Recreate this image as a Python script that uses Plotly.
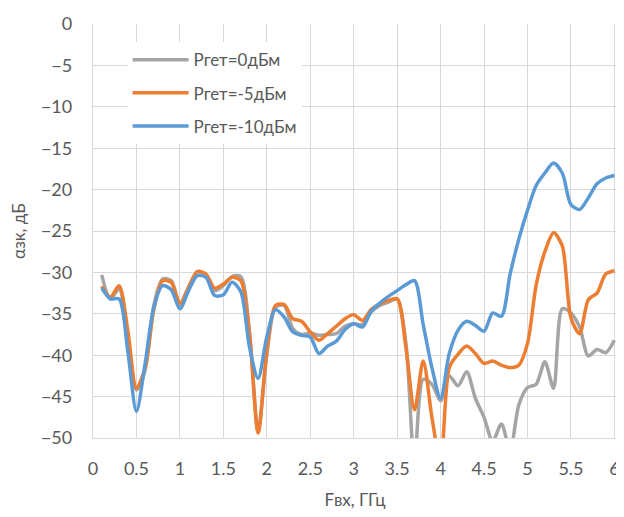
import plotly.graph_objects as go

freq = [0.1, 0.2, 0.3, 0.4, 0.5, 0.6, 0.7, 0.8, 0.9, 1.0,
        1.1, 1.2, 1.3, 1.4, 1.5, 1.6, 1.7, 1.8, 1.9, 2.0,
        2.1, 2.2, 2.3, 2.4, 2.5, 2.6, 2.7, 2.8, 2.9, 3.0,
        3.1, 3.2, 3.3, 3.4, 3.5, 3.6, 3.7, 3.8, 3.9, 4.0,
        4.1, 4.2, 4.3, 4.4, 4.5, 4.6, 4.7, 4.8, 4.9, 5.0,
        5.1, 5.2, 5.3, 5.4, 5.5, 5.6, 5.7, 5.8, 5.9, 6.0]

p_0dbm = [-30.3, -33.2, -32.0, -37.5, -44.2, -41.8, -34.0, -30.8, -31.0, -33.8,
          -31.8, -29.9, -30.3, -32.2, -31.6, -30.5, -30.5, -37.0, -49.2, -40.0,
          -34.2, -34.0, -36.8, -37.5, -37.3, -37.6, -37.5, -37.4, -36.5, -36.2,
          -36.3, -34.8, -34.0, -33.6, -33.2, -38.5, -53.0, -42.9, -43.5, -45.5,
          -42.5, -43.7, -42.0, -45.2, -47.5, -50.4, -48.3, -51.5, -46.0, -43.9,
          -43.5, -40.8, -44.0, -34.4, -34.9, -36.6, -40.1, -39.3, -39.7, -38.2]

p_m5dbm = [-31.7, -33.0, -31.6, -37.0, -44.0, -41.5, -34.5, -31.0, -31.2, -33.8,
           -31.8, -29.9, -30.2, -31.9, -31.4, -30.6, -31.0, -37.5, -49.4, -39.5,
           -34.0, -33.9, -35.6, -35.9, -37.2, -38.2, -37.4, -36.5, -35.6, -35.1,
           -35.8, -34.5, -33.8, -33.4, -33.2, -39.0, -46.6, -40.7, -47.5, -53.0,
           -41.5, -39.9, -38.9, -39.8, -41.0, -40.7, -41.2, -41.5, -41.2, -38.6,
           -31.5, -27.5, -25.2, -26.8, -35.5, -37.4, -33.3, -32.5, -30.2, -29.8]

p_m10dbm = [-31.9, -33.2, -33.2, -39.5, -46.8, -41.0, -34.2, -31.6, -32.1, -34.4,
            -32.2, -30.4, -30.6, -32.8, -32.7, -31.2, -32.3, -39.0, -42.8, -37.8,
            -34.5, -35.4, -37.2, -37.6, -37.8, -39.8, -38.9, -38.3, -36.9, -36.2,
            -36.6, -34.7, -33.7, -32.9, -32.2, -31.5, -31.0, -36.3, -41.5, -45.2,
            -39.8, -37.0, -35.9, -36.4, -37.1, -34.9, -35.3, -30.2, -26.0, -22.5,
            -19.5, -18.0, -16.8, -18.0, -21.8, -22.4, -21.0, -19.3, -18.6, -18.3]

series = [
    ("Ргет=0дБм", p_0dbm, "#A5A5A5"),
    ("Ргет=-5дБм", p_m5dbm, "#ED7D31"),
    ("Ргет=-10дБм", p_m10dbm, "#5B9BD5"),
]

x_ticks = [0, 0.5, 1, 1.5, 2, 2.5, 3, 3.5, 4, 4.5, 5, 5.5, 6]
x_tick_text = ["0", "0.5", "1", "1.5", "2", "2.5", "3", "3.5", "4", "4.5", "5", "5.5", "6"]
y_ticks = [0, -5, -10, -15, -20, -25, -30, -35, -40, -45, -50]

fig = go.Figure()
for i, (name, vals, color) in enumerate(series):
    fig.add_trace(go.Scatter(
        x=freq, y=vals, name=name, mode="lines", legendgroup="g%d" % i,
        line=dict(color=color, width=3.5, shape="spline", smoothing=0.8),
    ))

font_family = "Lato, 'Open Sans', sans-serif"
# page body has an 8px default margin, so the figure is sized to fit the window
fig.update_layout(
    width=616, height=509,
    margin=dict(l=85, r=4, t=13, b=79),
    paper_bgcolor="white", plot_bgcolor="white",
    font=dict(family=font_family, color="#595959", size=18),
    showlegend=True,
    legend=dict(
        x=0.066, y=0.956, xanchor="left", yanchor="top",
        bgcolor="rgba(255,255,255,1)",
        font=dict(size=17, color="#595959"),
        tracegroupgap=8, itemwidth=56,
    ),
    xaxis=dict(
        range=[0, 6.03], tickvals=x_ticks, ticktext=x_tick_text,
        showgrid=True, gridcolor="#D9D9D9", gridwidth=1.3,
        zeroline=False, showline=True, linecolor="#D9D9D9", linewidth=1.3,
        ticks="", ticklabelstandoff=14, ticklabeloverflow="allow",
        tickfont=dict(size=18, color="#595959"),
        title=dict(text="Fвх, ГГц", font=dict(size=17, color="#595959"), standoff=16),
    ),
    yaxis=dict(
        range=[-50, 0], tickvals=y_ticks,
        showgrid=True, gridcolor="#D9D9D9", gridwidth=1.3,
        zeroline=False, showline=True, linecolor="#D9D9D9", linewidth=1.3,
        ticks="", ticklabelstandoff=16,
        tickfont=dict(size=18, color="#595959"),
        title=dict(text="αзк, дБ", font=dict(size=17, color="#595959"), standoff=10),
    ),
)

fig.write_html("out.html")
